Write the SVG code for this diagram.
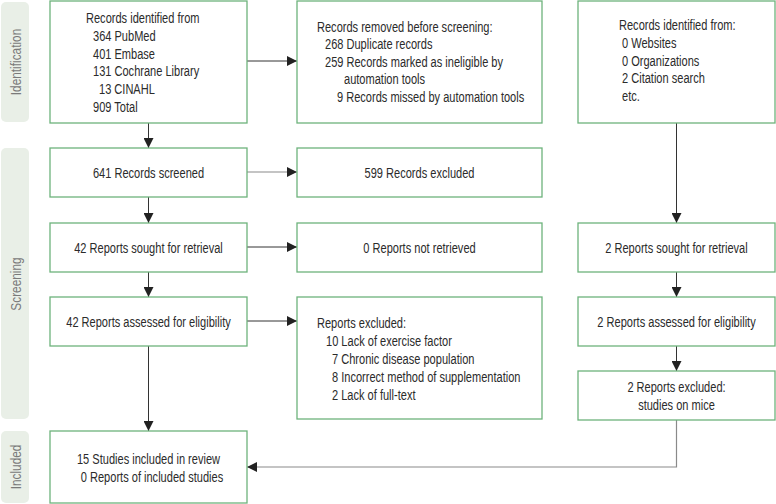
<svg xmlns="http://www.w3.org/2000/svg" width="776" height="504" viewBox="0 0 776 504">
<style>
text{font-family:"Liberation Sans",Arial,sans-serif;font-size:14.5px;fill:#2b2b2b}
.box{fill:#fff;stroke:#6db37c;stroke-width:1.3}
.side{fill:#e9efe7}
.sl{fill:#7a7a7a;font-size:15px;text-anchor:middle}
.c{text-anchor:middle}
.ln{fill:none;stroke:#333;stroke-width:1}
.lg{fill:none;stroke:#8a8a8a;stroke-width:1.2}
</style>
<defs>
<marker id="ah" viewBox="0 0 10 10" refX="10" refY="5" markerWidth="10" markerHeight="10" markerUnits="userSpaceOnUse" orient="auto">
<path d="M0,0 L10,5 L0,10 z" fill="#222"/>
</marker>
</defs>
<g id="phases">
<g id="phase-identification"><rect class="side" x="1" y="2" width="28" height="120" rx="5"/><text class="sl" transform="translate(20.5,62) rotate(-90) scale(0.79,1)">Identification</text></g>
<g id="phase-screening"><rect class="side" x="1" y="148" width="28" height="271" rx="5"/><text class="sl" transform="translate(20.5,284) rotate(-90) scale(0.79,1)">Screening</text></g>
<g id="phase-included"><rect class="side" x="1" y="431" width="28" height="72" rx="5"/><text class="sl" transform="translate(20.5,467) rotate(-90) scale(0.79,1)">Included</text></g>
</g>
<g id="connectors">
<line class="ln" x1="247" y1="61" x2="297" y2="61" marker-end="url(#ah)"/>
<line class="ln" x1="148.5" y1="123" x2="148.5" y2="148" marker-end="url(#ah)"/>
<line class="lg" x1="247" y1="172" x2="297" y2="172" marker-end="url(#ah)"/>
<line class="ln" x1="148.5" y1="197" x2="148.5" y2="223" marker-end="url(#ah)"/>
<line class="ln" x1="247" y1="247" x2="297" y2="247" marker-end="url(#ah)"/>
<line class="ln" x1="148.5" y1="272" x2="148.5" y2="297" marker-end="url(#ah)"/>
<line class="ln" x1="247" y1="321" x2="297" y2="321" marker-end="url(#ah)"/>
<line class="ln" x1="148.5" y1="346" x2="148.5" y2="431" marker-end="url(#ah)"/>
<line class="ln" x1="676.5" y1="123" x2="676.5" y2="223" marker-end="url(#ah)"/>
<line class="ln" x1="676.5" y1="272" x2="676.5" y2="297" marker-end="url(#ah)"/>
<line class="ln" x1="676.5" y1="346" x2="676.5" y2="371" marker-end="url(#ah)"/>
<polyline class="lg" points="676.5,420 676.5,467 247,467" marker-end="url(#ah)"/>
</g>
<g id="n-db">
<rect class="box" x="50" y="1" width="197" height="122"/>
<text transform="translate(86,23) scale(0.763,1)">Records identified from</text>
<text transform="translate(93,40.5) scale(0.763,1)">364 PubMed</text>
<text transform="translate(93,58.5) scale(0.763,1)">401 Embase</text>
<text transform="translate(93,76) scale(0.763,1)">131 Cochrane Library</text>
<text transform="translate(99,93.5) scale(0.763,1)">13 CINAHL</text>
<text transform="translate(93,111.5) scale(0.763,1)">909 Total</text>
</g>
<g id="n-removed">
<rect class="box" x="297" y="1" width="245" height="122"/>
<text transform="translate(317,31.5) scale(0.763,1)">Records removed before screening:</text>
<text transform="translate(325,49) scale(0.763,1)">268 Duplicate records</text>
<text transform="translate(325,66.5) scale(0.763,1)">259 Records marked as ineligible by</text>
<text transform="translate(344,84) scale(0.763,1)">automation tools</text>
<text transform="translate(337,101.5) scale(0.763,1)">9 Records missed by automation tools</text>
</g>
<g id="n-other">
<rect class="box" x="578" y="1" width="197" height="122"/>
<text transform="translate(619,30) scale(0.763,1)">Records identified from:</text>
<text transform="translate(622,47.5) scale(0.763,1)">0 Websites</text>
<text transform="translate(622,65.5) scale(0.763,1)">0 Organizations</text>
<text transform="translate(622,83) scale(0.763,1)">2 Citation search</text>
<text transform="translate(622,101) scale(0.763,1)">etc.</text>
</g>
<g id="n-screened">
<rect class="box" x="50" y="148" width="197" height="49"/>
<text class="c" transform="translate(148.5,177.5) scale(0.763,1)">641 Records screened</text>
</g>
<g id="n-excluded">
<rect class="box" x="297" y="148" width="245" height="49"/>
<text class="c" transform="translate(419.5,177.5) scale(0.763,1)">599 Records excluded</text>
</g>
<g id="n-sought">
<rect class="box" x="50" y="223" width="197" height="49"/>
<text class="c" transform="translate(148.5,252.5) scale(0.763,1)">42 Reports sought for retrieval</text>
</g>
<g id="n-notretrieved">
<rect class="box" x="297" y="223" width="245" height="49"/>
<text class="c" transform="translate(419.5,252.5) scale(0.763,1)">0 Reports not retrieved</text>
</g>
<g id="n-sought2">
<rect class="box" x="578" y="223" width="197" height="49"/>
<text class="c" transform="translate(676.5,252.5) scale(0.763,1)">2 Reports sought for retrieval</text>
</g>
<g id="n-assessed">
<rect class="box" x="50" y="297" width="197" height="49"/>
<text class="c" transform="translate(148.5,326.5) scale(0.763,1)">42 Reports assessed for eligibility</text>
</g>
<g id="n-repexcluded">
<rect class="box" x="297" y="297" width="245" height="122"/>
<text transform="translate(317,328) scale(0.763,1)">Reports excluded:</text>
<text transform="translate(326,346) scale(0.763,1)">10 Lack of exercise factor</text>
<text transform="translate(332,364) scale(0.763,1)">7 Chronic disease population</text>
<text transform="translate(332,382) scale(0.763,1)">8 Incorrect method of supplementation</text>
<text transform="translate(332,399.5) scale(0.763,1)">2 Lack of full-text</text>
</g>
<g id="n-assessed2">
<rect class="box" x="578" y="297" width="197" height="49"/>
<text class="c" transform="translate(676.5,326.5) scale(0.763,1)">2 Reports assessed for eligibility</text>
</g>
<g id="n-excluded2">
<rect class="box" x="578" y="371" width="197" height="49"/>
<text class="c" transform="translate(676.5,392) scale(0.763,1)">2 Reports excluded:</text>
<text class="c" transform="translate(676.5,409.5) scale(0.763,1)">studies on mice</text>
</g>
<g id="n-included">
<rect class="box" x="50" y="431" width="197" height="72"/>
<text class="c" transform="translate(148.5,463.5) scale(0.763,1)">15 Studies included in review</text>
<text class="c" transform="translate(152,481.5) scale(0.763,1)">0 Reports of included studies</text>
</g>
</svg>
